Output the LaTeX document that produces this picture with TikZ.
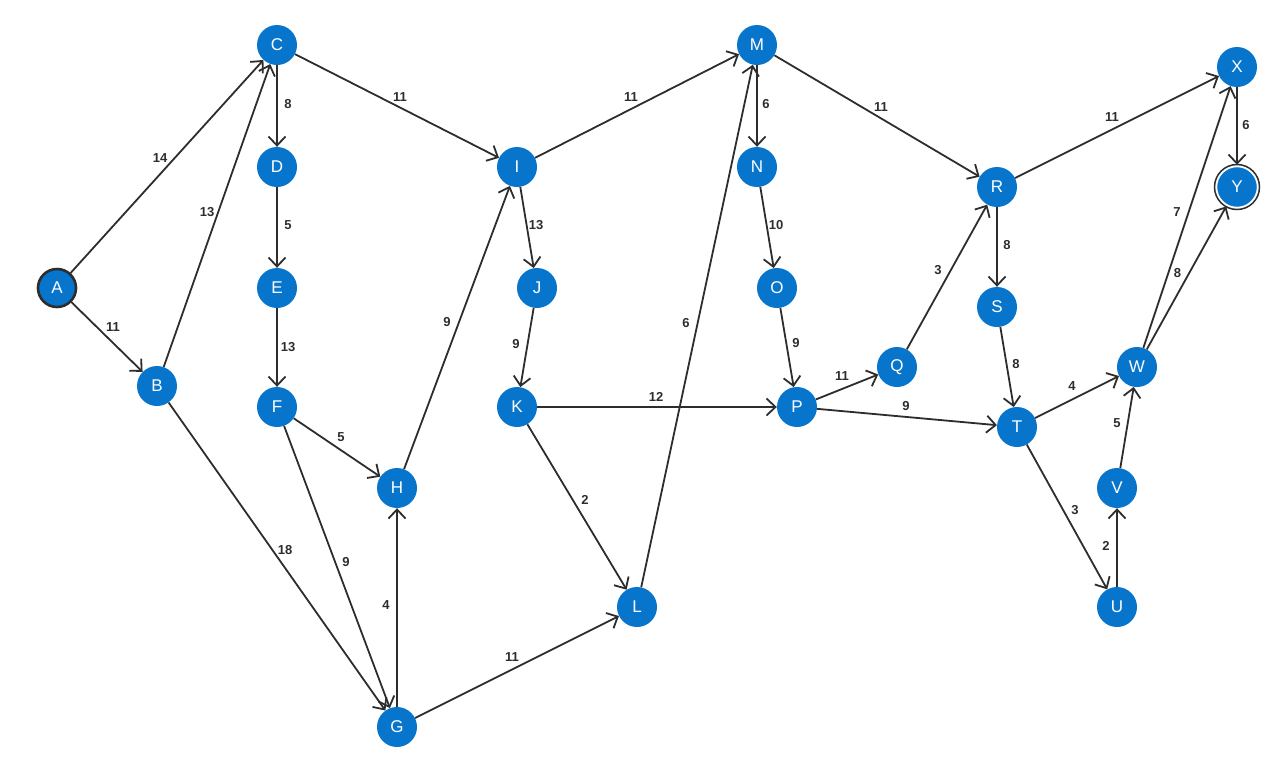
\documentclass[tikz,border=0pt]{standalone}
\usepackage{fontspec}
\setmainfont{Liberation Sans}
\usetikzlibrary{arrows.meta}
\definecolor{nodeblue}{RGB}{8,117,204}
\definecolor{ink}{RGB}{45,45,45}
\tikzset{
  vtx/.style={circle, fill=nodeblue, minimum size=40pt, inner sep=0pt,
    text=white, font=\fontsize{17}{17}\selectfont},
  startvtx/.style={vtx, draw=ink, line width=2.6pt, minimum size=38pt},
  endvtx/.style={vtx, draw=white, line width=2.4pt, minimum size=42pt},
  arr/.style={draw=ink, line width=1.8pt, -{Straight Barb[length=9pt,width=17pt,line width=1.8pt]}},
  lab/.style={text=ink, font=\fontsize{13}{13}\selectfont\bfseries, inner sep=0pt}
}
% \edge{from}{to}{weight}{xshift}{yshift}
\newcommand{\edge}[5]{\draw[arr] (#1) -- node[lab, xshift=#4pt, yshift=#5pt]{#3} (#2);}
\begin{document}
\begin{tikzpicture}[x=1pt, y=-1pt]
\useasboundingbox (0,0) rectangle (1276,777);
% vertices
\node[startvtx] (A) at (57,288) {A};
\node[vtx] (B) at (157,386) {B};
\node[vtx] (C) at (277,45) {C};
\node[vtx] (D) at (277,167) {D};
\node[vtx] (E) at (277,288) {E};
\node[vtx] (F) at (277,407) {F};
\node[vtx] (G) at (397,727) {G};
\node[vtx] (H) at (397,488) {H};
\node[vtx] (I) at (517,167) {I};
\node[vtx] (J) at (537,288) {J};
\node[vtx] (K) at (517,407) {K};
\node[vtx] (L) at (637,607) {L};
\node[vtx] (M) at (757,45) {M};
\node[vtx] (N) at (757,167) {N};
\node[vtx] (O) at (777,288) {O};
\node[vtx] (P) at (797,407) {P};
\node[vtx] (Q) at (897,367) {Q};
\node[vtx] (R) at (997,187) {R};
\node[vtx] (S) at (997,307) {S};
\node[vtx] (T) at (1017,427) {T};
\node[vtx] (U) at (1117,607) {U};
\node[vtx] (V) at (1117,488) {V};
\node[vtx] (W) at (1137,367) {W};
\node[vtx] (X) at (1237,67) {X};
\node[endvtx] (Y) at (1237,187) {Y};
\draw[ink, line width=1.5pt] (Y.center) circle[radius=22.5];
% weighted edges
\edge{A}{C}{14}{-7}{8}
\edge{A}{B}{11}{6}{10}
\edge{B}{C}{13}{-10}{3}
\edge{B}{G}{18}{8}{6}
\edge{C}{D}{8}{11}{2}
\edge{C}{I}{11}{3}{9}
\edge{D}{E}{5}{11}{2}
\edge{E}{F}{13}{11}{0}
\edge{F}{H}{5}{4}{10}
\edge{F}{G}{9}{9}{5}
\edge{G}{H}{4}{-11}{2}
\edge{H}{I}{9}{-10}{5}
\edge{G}{L}{11}{-5}{10}
\edge{I}{J}{13}{9}{2}
\edge{I}{M}{11}{-6}{9}
\edge{J}{K}{9}{-11}{3}
\edge{K}{P}{12}{-1}{10}
\edge{K}{L}{2}{8}{7}
\edge{L}{M}{6}{-11}{3}
\edge{M}{N}{6}{9}{2}
\edge{M}{R}{11}{4}{9}
\edge{N}{O}{10}{9}{2}
\edge{O}{P}{9}{9}{4}
\edge{P}{Q}{11}{-5}{11}
\edge{P}{T}{9}{-1}{11}
\edge{Q}{R}{3}{-9}{7}
\edge{R}{X}{11}{-5}{10}
\edge{R}{S}{8}{10}{2}
\edge{S}{T}{8}{9}{3}
\edge{T}{W}{4}{-5}{11}
\edge{T}{U}{3}{8}{7}
\edge{U}{V}{2}{-11}{2}
\edge{V}{W}{5}{-10}{4}
\edge{W}{X}{7}{-10}{5}
\edge{W}{Y}{8}{-9}{5}
\edge{X}{Y}{6}{9}{1}
\end{tikzpicture}
\end{document}
